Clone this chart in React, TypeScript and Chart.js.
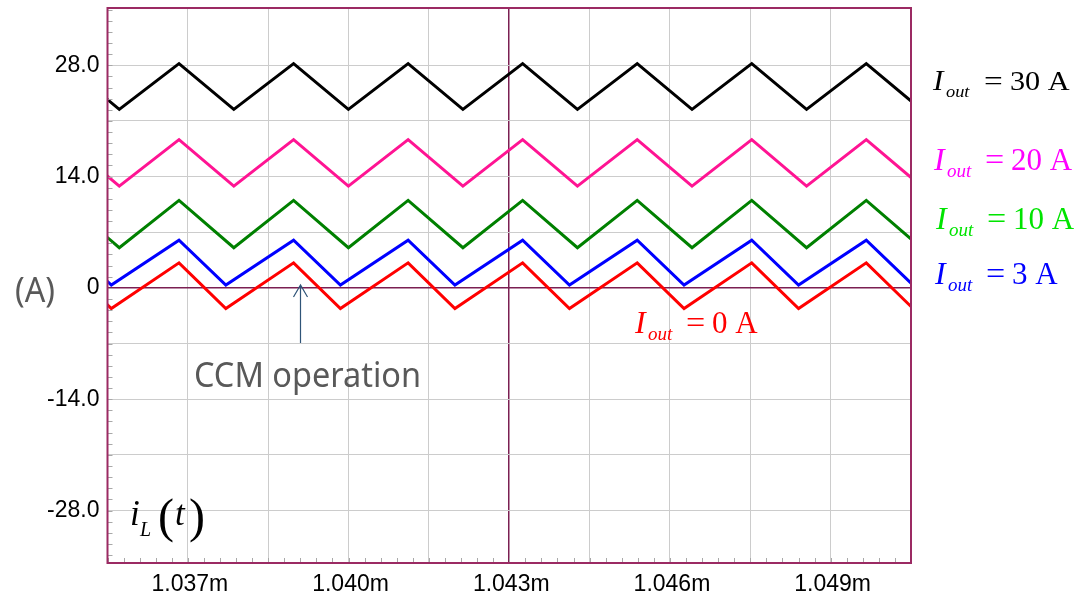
import React, { useEffect, useRef } from 'react';
import { Chart, registerables } from 'chart.js';

Chart.register(...registerables);

// ---- data (time in ms, current in A) ----
// vertex times (peak, valley, peak, ...) for the heavier loads (30 A, 20 A, 10 A)
const TIMES_HEAVY = [
  1.034697, 1.03572, 1.036835, 1.037858, 1.038974, 1.039997, 1.041112, 1.042135,
  1.04325, 1.044273, 1.045389, 1.046412, 1.047527, 1.04855, 1.049665, 1.050688,
];
// vertex times for the light loads (3 A, 0 A)
const TIMES_LIGHT = [
  1.034697, 1.035571, 1.036835, 1.037709, 1.038974, 1.039848, 1.041112, 1.041986,
  1.04325, 1.044124, 1.045389, 1.046263, 1.047527, 1.048401, 1.049665, 1.050539,
];
const IL_30A = [28.2, 22.45, 28.2, 22.45, 28.2, 22.45, 28.2, 22.45, 28.2, 22.45, 28.2, 22.45, 28.2, 22.45, 28.2, 22.45];
const IL_20A = [18.65, 12.8, 18.65, 12.8, 18.65, 12.8, 18.65, 12.8, 18.65, 12.8, 18.65, 12.8, 18.65, 12.8, 18.65, 12.8];
const IL_10A = [11.0, 5.05, 11.0, 5.05, 11.0, 5.05, 11.0, 5.05, 11.0, 5.05, 11.0, 5.05, 11.0, 5.05, 11.0, 5.05];
const IL_3A = [6.0, 0.35, 6.0, 0.35, 6.0, 0.35, 6.0, 0.35, 6.0, 0.35, 6.0, 0.35, 6.0, 0.35, 6.0, 0.35];
const IL_0A = [3.15, -2.6, 3.15, -2.6, 3.15, -2.6, 3.15, -2.6, 3.15, -2.6, 3.15, -2.6, 3.15, -2.6, 3.15, -2.6];

const SERIES_NAMES = ['Iout = 30 A', 'Iout = 20 A', 'Iout = 10 A', 'Iout = 3 A', 'Iout = 0 A'];

const X_MIN = 1.0355;
const X_MAX = 1.0505;
const X_TICKS = [1.0355, 1.037, 1.0385, 1.04, 1.0415, 1.043, 1.0445, 1.046, 1.0475, 1.049, 1.0505];
const X_TICK_LABELS = ['', '1.037m', '', '1.040m', '', '1.043m', '', '1.046m', '', '1.049m', ''];
const X_CURSOR = 1.043;

const Y_MIN = -34.6;
const Y_MAX = 35.2;
const Y_TICKS = [-28, -21, -14, -7, 0, 7, 14, 21, 28];
const Y_TICK_LABELS = ['-28.0', '', '-14.0', '', '0', '', '14.0', '', '28.0'];

const X_MINOR_STEP = 0.0003;
const Y_MINOR_STEP = 1.4;

// ---- styling ----
const MAROON = '#9B2A63';
const MAROON_DARK = '#7B1F52';
const GRID = '#CCCCCC';
const SERIF = '"Liberation Serif", "Times New Roman", serif';
const SANS = '"Liberation Sans", Arial, sans-serif';
const NOTE_FONT = '"Noto Sans", "Open Sans", sans-serif';

const LABELS = [
  { text: '30 A', color: '#000000', x: 933, y: 89.5, size: 28, sx: 1.08 },
  { text: '20 A', color: '#FF00FF', x: 934, y: 170, size: 31, sx: 1 },
  { text: '10 A', color: '#00E400', x: 936, y: 228.5, size: 31, sx: 1 },
  { text: '3 A', color: '#0000FF', x: 935, y: 283.5, size: 31, sx: 1 },
  { text: '0 A', color: '#FF0000', x: 635, y: 333, size: 31, sx: 1 },
];

function drawPiece(ctx: CanvasRenderingContext2D, s: string, x: number, y: number, sx: number) {
  ctx.save();
  ctx.translate(x, y);
  ctx.scale(sx, 1);
  ctx.fillText(s, 0, 0);
  ctx.restore();
}

const annotationPlugin = {
  id: 'annotations',
  afterDraw(chart: any) {
    const { ctx, chartArea: a, scales } = chart;
    const xs = scales.x;
    const ys = scales.y;
    ctx.save();

    // minor ticks on left and bottom borders
    ctx.strokeStyle = '#A8A8A8';
    ctx.lineWidth = 1;
    ctx.beginPath();
    for (let k = Math.ceil(Y_MIN / Y_MINOR_STEP); k <= Math.floor(Y_MAX / Y_MINOR_STEP); k++) {
      const py = Math.round(ys.getPixelForValue(k * Y_MINOR_STEP)) + 0.5;
      ctx.moveTo(a.left, py);
      ctx.lineTo(a.left + 5, py);
    }
    for (let k = 0; X_MIN + k * X_MINOR_STEP <= X_MAX + 1e-9; k++) {
      const px = Math.round(xs.getPixelForValue(X_MIN + k * X_MINOR_STEP)) + 0.5;
      ctx.moveTo(px, a.bottom);
      ctx.lineTo(px, a.bottom - 5);
    }
    ctx.stroke();

    // plot border
    ctx.strokeStyle = MAROON;
    ctx.lineWidth = 2;
    ctx.strokeRect(a.left, a.top, a.right - a.left, a.bottom - a.top);

    // right-side Iout labels
    ctx.textAlign = 'left';
    ctx.textBaseline = 'alphabetic';
    for (const l of LABELS) {
      ctx.fillStyle = l.color;
      const subSize = Math.round(l.size * 0.6);
      ctx.font = `italic ${l.size + 1}px ${SERIF}`;
      drawPiece(ctx, 'I', l.x, l.y, l.sx);
      ctx.font = `italic ${subSize}px ${SERIF}`;
      drawPiece(ctx, 'out', l.x + 13, l.y + 7, l.sx);
      ctx.font = `${l.size}px ${SERIF}`;
      drawPiece(ctx, '=', l.x + 51, l.y, l.sx * 1.1);
      drawPiece(ctx, l.text, l.x + 77, l.y, l.sx);
    }

    // i_L(t)
    ctx.fillStyle = '#000000';
    ctx.font = `italic 35px ${SERIF}`;
    ctx.fillText('i', 130, 525);
    ctx.font = `italic 20px ${SERIF}`;
    ctx.fillText('L', 140, 536);
    ctx.font = `48px ${SERIF}`;
    ctx.fillText('(', 158, 532);
    ctx.font = `italic 35px ${SERIF}`;
    ctx.fillText('t', 175, 525);
    ctx.font = `48px ${SERIF}`;
    ctx.fillText(')', 189, 532);

    // (A) unit and CCM note
    ctx.fillStyle = '#595959';
    ctx.font = `34px ${NOTE_FONT}`;
    ctx.fillText('(A)', 15, 302, 40);
    ctx.fillText('CCM operation', 194, 387, 227);

    // arrow
    ctx.strokeStyle = '#2F5478';
    ctx.lineWidth = 1.2;
    ctx.beginPath();
    ctx.moveTo(300.5, 343);
    ctx.lineTo(300.5, 285);
    ctx.moveTo(293.5, 297);
    ctx.lineTo(300.5, 285);
    ctx.lineTo(307.5, 297);
    ctx.stroke();

    ctx.restore();
  },
};

function series(times: number[], values: number[]) {
  return times.map((t, i) => ({ x: t, y: values[i] }));
}

export default function App() {
  const ref = useRef<HTMLCanvasElement | null>(null);

  useEffect(() => {
    if (!ref.current) return;
    const mk = (label: string, times: number[], vals: number[], color: string) => ({
      label,
      data: series(times, vals),
      borderColor: color,
      backgroundColor: color,
      borderWidth: 3,
      pointRadius: 0,
      tension: 0,
      fill: false,
      clip: 0,
    });
    const chart = new Chart(ref.current, {
      type: 'line',
      data: {
        datasets: [
          mk(SERIES_NAMES[0], TIMES_HEAVY, IL_30A, '#000000'),
          mk(SERIES_NAMES[1], TIMES_HEAVY, IL_20A, '#FF1493'),
          mk(SERIES_NAMES[2], TIMES_HEAVY, IL_10A, '#008000'),
          mk(SERIES_NAMES[3], TIMES_LIGHT, IL_3A, '#0000FF'),
          mk(SERIES_NAMES[4], TIMES_LIGHT, IL_0A, '#FF0000'),
        ],
      },
      options: {
        responsive: false,
        animation: false,
        events: [],
        layout: { padding: { top: 8, right: 171, left: 0, bottom: 0 } },
        plugins: { legend: { display: false }, tooltip: { enabled: false } },
        scales: {
          x: {
            type: 'linear',
            min: X_MIN,
            max: X_MAX,
            afterBuildTicks: (s: any) => {
              s.ticks = X_TICKS.map((v) => ({ value: v }));
            },
            afterFit: (s: any) => {
              s.height = 33;
              s.paddingLeft = 0;
              s.paddingRight = 0;
            },
            border: { display: false },
            grid: {
              drawTicks: false,
              color: (c: any) => (c.tick && Math.abs(c.tick.value - X_CURSOR) < 1e-9 ? MAROON_DARK : GRID),
              lineWidth: (c: any) => (c.tick && Math.abs(c.tick.value - X_CURSOR) < 1e-9 ? 1.5 : 1),
            },
            ticks: {
              autoSkip: false,
              maxRotation: 0,
              minRotation: 0,
              padding: 8,
              labelOffset: 2,
              color: '#000000',
              font: { family: SANS, size: 23 },
              callback: (_v: any, i: number) => X_TICK_LABELS[i],
            },
          },
          y: {
            type: 'linear',
            min: Y_MIN,
            max: Y_MAX,
            afterBuildTicks: (s: any) => {
              s.ticks = Y_TICKS.map((v) => ({ value: v }));
            },
            afterFit: (s: any) => {
              s.width = 107.5;
              s.paddingTop = 0;
              s.paddingBottom = 0;
            },
            border: { display: false },
            grid: {
              drawTicks: false,
              color: (c: any) => (c.tick && c.tick.value === 0 ? MAROON_DARK : GRID),
              lineWidth: (c: any) => (c.tick && c.tick.value === 0 ? 1.5 : 1),
            },
            ticks: {
              padding: 8,
              color: '#000000',
              font: { family: SANS, size: 23 },
              callback: (_v: any, i: number) => Y_TICK_LABELS[i],
            },
          },
        },
      },
      plugins: [annotationPlugin],
    } as any);
    return () => chart.destroy();
  }, []);

  return (
    <div style={{ position: 'absolute', left: 0, top: 0, width: 1082, height: 596, background: '#ffffff' }}>
      <canvas ref={ref} width={1082} height={596} style={{ display: 'block' }} />
    </div>
  );
}
